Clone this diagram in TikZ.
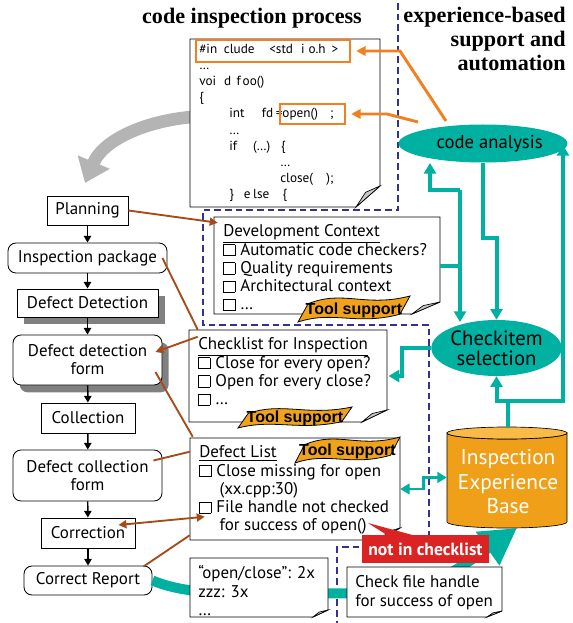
\documentclass[tikz,border=0pt]{standalone}
\usepackage{fontspec}
\setmainfont{PT Sans}
\newfontfamily\titlefont{Liberation Serif}
\newfontfamily\arialfont{Liberation Sans}
\usetikzlibrary{arrows.meta,fit,calc,shadows,shapes.geometric}

\definecolor{tealc}{RGB}{0,176,160}
\definecolor{orline}{RGB}{240,128,32}
\definecolor{flagc}{RGB}{240,163,26}
\definecolor{cylbody}{RGB}{240,160,24}
\definecolor{cyltop}{RGB}{250,186,72}
\definecolor{brownc}{RGB}{165,75,25}
\definecolor{dashblue}{RGB}{50,50,150}
\definecolor{redc}{RGB}{220,35,35}
\definecolor{bigarrow}{RGB}{180,180,180}
\definecolor{shadowc}{RGB}{128,128,128}
\definecolor{foldc}{RGB}{200,200,200}

% small empty check box used in the lists
\newcommand{\chk}{\raisebox{-0.02em}{\fboxsep=0pt\fboxrule=0.6pt\fbox{\rule{0pt}{0.62em}\hspace{0.62em}}}\hspace{0.3em}}

% document sheet with a curled lower right corner:
% name, x0, y0, x1, y1, ear width, ear height
\newcommand{\docsheet}[7]{%
  \node[fit={(#2,#3) (#4,#5)}, inner sep=0pt] (#1) {};
  \filldraw[docline] (#2,#3) -- (#4,#3) -- (#4,#5-#7) -- (#4-#6,#5) -- (#2,#5) -- cycle;
  \filldraw[foldline] (#4,#5-#7) -- (#4-0.6*#6,#5-0.7*#7) -- (#4-#6,#5) -- cycle;
}

% wavy "Tool support" banner: name, x0, y0, x1, y1
\newcommand{\toolflag}[5]{%
  \filldraw[flagline] (#2,#5) -- ({#2+0.09*(#4-#2)},{#3+0.3*(#5-#3)})
    .. controls ({#2+0.4*(#4-#2)},{#3-0.25*(#5-#3)}) and ({#2+0.6*(#4-#2)},{#3+0.45*(#5-#3)}) .. (#4,#3)
    -- ({#4-0.09*(#4-#2)},{#5-0.3*(#5-#3)})
    .. controls ({#2+0.52*(#4-#2)},{#3+1.15*(#5-#3)}) and ({#2+0.32*(#4-#2)},{#3+0.55*(#5-#3)}) .. (#2,#5) -- cycle;
  \node[flagtext] (#1) at ({(#2+#4)/2},{(#3+#5)/2+1}) {Tool support};
}

\begin{document}
\begin{tikzpicture}[x=0.75pt,y=-0.75pt,
  flowbox/.style={draw=black, line width=0.65pt, fill=white, align=center,
    inner sep=0pt, font=\fontsize{12.7}{13.5}\selectfont},
  roundbox/.style={flowbox, rounded corners=6pt},
  shadowed/.style={drop shadow={shadow xshift=5pt, shadow yshift=-5.5pt, fill=shadowc, opacity=1}},
  flow/.style={line width=1.1pt, -{Triangle[length=5pt,width=5.5pt]}},
  docline/.style={draw=black, line width=0.6pt, fill=white},
  foldline/.style={draw=black, line width=0.5pt, fill=foldc},
  flagline/.style={draw=black, line width=0.6pt, fill=flagc},
  flagtext/.style={inner sep=0pt, font=\arialfont\bfseries\fontsize{12}{13}\selectfont},
  doctext/.style={anchor=north west, align=left, inner sep=0pt, font=\fontsize{12.7}{13.7}\selectfont},
  codetext/.style={anchor=north west, align=left, inner sep=0pt, font=\fontsize{9.9}{12.15}\selectfont},
  title/.style={inner sep=0pt, font=\titlefont\bfseries\fontsize{16.6}{18}\selectfont},
  dashpath/.style={draw=dashblue, line width=2pt, dash pattern=on 5pt off 3pt},
  tealline/.style={draw=tealc, line width=3pt},
  tealarrow/.style={tealline, -{Triangle[length=8pt,width=9pt]}},
  tealboth/.style={draw=tealc, line width=2.2pt, {Triangle[length=7pt,width=8pt]}-{Triangle[length=7pt,width=8pt]}},
  orarrow/.style={draw=orline, line width=2.2pt, -{Triangle[length=7pt,width=7pt]}},
  orbox/.style={draw=orline, line width=1.8pt, inner sep=0pt},
  brownline/.style={draw=brownc, line width=1.4pt},
  brownarrow/.style={brownline, -{Triangle[length=6pt,width=6pt]}},
  browndbl/.style={brownline, {Triangle[length=6pt,width=6pt]}-{Triangle[length=6pt,width=6pt]}},
  ellipsenode/.style={ellipse, fill=tealc, inner sep=0pt, align=center}
]
\useasboundingbox (0,0) rectangle (572,623);

% ---------- titles ----------
\node[title] (t1) at (252,18) {code inspection process};
\node[title, anchor=north east, align=right] (t2) at (566,7) {experience-based\\support and\\automation};

% ---------- dashed border between the two areas ----------
\draw[dashpath] (398,3) -- (398,210) -- (203,210) -- (203,325) -- (429,325) -- (429,547) -- (337,547) -- (337,623);

% ---------- big grey arrow from the code to the process ----------
\coordinate (ga-end) at (85,183);
\draw[draw=bigarrow, line width=9.5pt, -{Triangle[length=17pt,width=25pt]}]
  (192,117) .. controls (145,121) and (103,140) .. (ga-end);

% ---------- code sheet ----------
\docsheet{code}{190}{39}{380}{207}{24}{21}
\node[codetext] (codelines) at (199,43.5) {%
\#in\hspace{5pt}clude\hspace{11pt}<std\hspace{6pt}i\hspace{3pt}o.h\hspace{4.5pt}>\\
…\\
voi\hspace{6pt}d\hspace{4pt}f\hspace{1.5pt}oo()\\
\{\\
\hspace*{22.5pt}int\hspace{13pt}fd\hspace{2pt}=open()\hspace{9pt};\\
\hspace*{22.5pt}…\\
\hspace*{22.5pt}if\hspace{12pt}(…)\hspace{8pt}\{\\
\hspace*{60.75pt}…\\
\hspace*{60.75pt}close(\hspace{10pt});\\
\hspace*{22.5pt}\}\hspace{7.5pt}e\hspace{2pt}lse\hspace{10pt}\{};
\node[orbox, fit={(196,40) (350,62)}] (inc) {};
\node[orbox, fit={(280,104) (345,124)}] (opn) {};

% ---------- left: inspection process ----------
\node[flowbox, minimum width=60.75pt, minimum height=21.75pt] (pl) at (87.5,210.5) {Planning};
\node[roundbox, minimum width=119.25pt, minimum height=22.5pt] (ip) at (87.5,258) {Inspection package};
\node[flowbox, shadowed, minimum width=105.75pt, minimum height=21pt] (dd) at (87.5,303) {Defect Detection};
\node[roundbox, shadowed, minimum width=111.75pt, minimum height=37.5pt] (ddf) at (87.5,360) {Defect detection\\form};
\node[flowbox, minimum width=70.5pt, minimum height=22.5pt] (col) at (88,418) {Collection};
\node[roundbox, minimum width=111.75pt, minimum height=38.25pt] (dcf) at (87.5,475.5) {Defect collection\\form};
\node[flowbox, minimum width=70.5pt, minimum height=22.5pt] (cor) at (88,533) {Correction};
\node[roundbox, minimum width=96pt, minimum height=21.75pt] (cr) at (88,580.5) {Correct Report};

\draw[flow] (pl) -- (ip);
\draw[flow] (ip) -- (dd);
\draw[flow] (dd) -- (ddf);
\draw[flow] (ddf) -- (col);
\draw[flow] (col) -- (dcf);
\draw[flow] (dcf) -- (cor);
\draw[flow] (cor) -- (cr);

% ---------- wide teal band from the report to the experience base ----------
\coordinate (ieb-in) at (517,528);
\draw[draw=tealc, line width=7.5pt, -{Triangle[length=27pt,width=29pt]}]
  (cr.east) .. controls (180,592) and (215,594) .. (270,594)
  -- (380,593) .. controls (425,591) and (450,575) .. (ieb-in);

% ---------- development context ----------
\docsheet{dev}{214}{217}{440}{314}{28}{12}
\node[doctext] (devtext) at (223,224.5) {\underline{Development Context}\\
\chk Automatic code checkers?\\ \chk Quality requirements\\ \chk Architectural context\\ \chk …};
\toolflag{ts1}{298}{296}{410}{322}

% ---------- checklist ----------
\docsheet{chl}{189}{330}{387}{422}{25}{12}
\node[doctext] (chltext) at (198,337.5) {\underline{Checklist for Inspection}\\
\chk Close for every open?\\ \chk Open for every close?\\ \chk …};
\toolflag{ts2}{238}{407}{352}{428}

% ---------- defect list ----------
\docsheet{dl}{190}{438}{400}{540}{20}{12}
\node[doctext] (dltext) at (199,445.5) {\underline{Defect List}\\
\chk Close missing for open\\ \hspace*{1.2em}(xx.cpp:30)\\ \chk File handle not checked\\ \hspace*{1.2em}for success of open()};
\toolflag{ts3}{295}{437}{400}{463}

% ---------- statistics and new check item ----------
\docsheet{ocb}{190}{558}{328}{617}{15}{7}
\node[doctext] (ocbtext) at (198,565.5) {“open/close”: 2x\\ zzz: 3x\\ …};
\docsheet{nci}{347}{567}{502}{617}{15}{6}
\node[doctext] (ncitext) at (355,575.5) {Check file handle\\ for success of open};

% ---------- inspection experience base ----------
\node[fit={(447,427) (567,528)}, inner sep=0pt] (ieb) {};
\filldraw[fill=cylbody, draw=black, line width=0.5pt] (447,433) -- (447,522)
  arc[start angle=180, end angle=360, x radius=45pt, y radius=4.5pt] -- (567,433)
  arc[start angle=0, end angle=-180, x radius=45pt, y radius=4.5pt] -- cycle;
\filldraw[fill=cyltop, draw=black, line width=0.5pt] (507,433) ellipse [x radius=45pt, y radius=4.5pt];
\node[align=center, text=white, inner sep=0pt, font=\fontsize{16}{18.4}\selectfont] (iebtext) at (508,482) {Inspection\\Experience\\Base};

% ---------- tool ellipses ----------
\node[ellipsenode, minimum width=112.5pt, minimum height=28.5pt, font=\fontsize{14}{15}\selectfont] (ca) at (483,143.5) {\hspace{10pt}code analysis};
\node[ellipsenode, minimum width=77.25pt, minimum height=42pt, font=\fontsize{15.5}{15}\selectfont] (cs) at (496.5,348) {Checkitem\\selection};

% ---------- teal connectors ----------
\coordinate (j1) at (460,190);
\coordinate (cs-in1) at (460,322);
\coordinate (ca-in1) at (430,163);
\coordinate (j2) at (508,401);
\coordinate (ca-in2) at (563,145);
\draw[tealline] (dev.east) -- (dev.east -| j1);
\draw[tealarrow] (j1) -- (cs-in1);
\draw[tealarrow] (j1) -| (ca-in1);
\draw[tealarrow] (ca.south) -- ++(0,75) -| (cs.north);
\draw[tealline] (ieb.north -| j2) -- (j2);
\draw[tealarrow] (j2) -| (cs.south);
\draw[tealarrow] (j2) -| (ca-in2);
\draw[tealarrow] (cs.west) -- ++(-29,0) |- ([xshift=1pt]chl.east);
\draw[tealboth] (dl.east) -- ++(23,0) |- (ieb.west);

% ---------- orange code analysis results ----------
\coordinate (oa1) at (446,121);
\coordinate (oa2) at (418,122);
\draw[orarrow] (oa1) -- (400,51) -- ($(inc.east)+(5,0)$);
\draw[orarrow] (oa2) -- (387,114) -- ($(opn.east)+(5,0)$);

% ---------- brown relations ----------
\draw[brownarrow] (pl.east) -- ($(dev.north west)+(4,6)$);
\draw[brownline] ($(ip.east)+(-5,0)$) -- ($(chl.north west)+(9,0)$);
\draw[brownarrow] ($(chl.north west)+(9,7)$) -- ($(ddf.east)+(-7,-8)$);
\draw[brownline] ($(ddf.east)+(-7,12)$) -- ($(dl.north west)+(3,-1)$);
\draw[brownline] ($(dl.north west)+(0,14)$) -- ($(dcf.east)+(-9,-15)$);
\draw[browndbl] ($(cor.east)+(-17,-8)$) -- ($(dl.north west)+(15,79)$);
\draw[brownline] ($(cr.north east)+(-9,1)$) -- ($(dl.south west)+(0,-5)$);

% ---------- "not in checklist" callout ----------
\fill[redc] (368,523) -- (390,537) -- (420,537) -- cycle;
\node[fill=redc, text=white, inner sep=0pt, minimum width=95pt, minimum height=21pt,
  font=\bfseries\fontsize{13.2}{14}\selectfont] (nic) at (425.5,549) {not in checklist};
\end{tikzpicture}
\end{document}
